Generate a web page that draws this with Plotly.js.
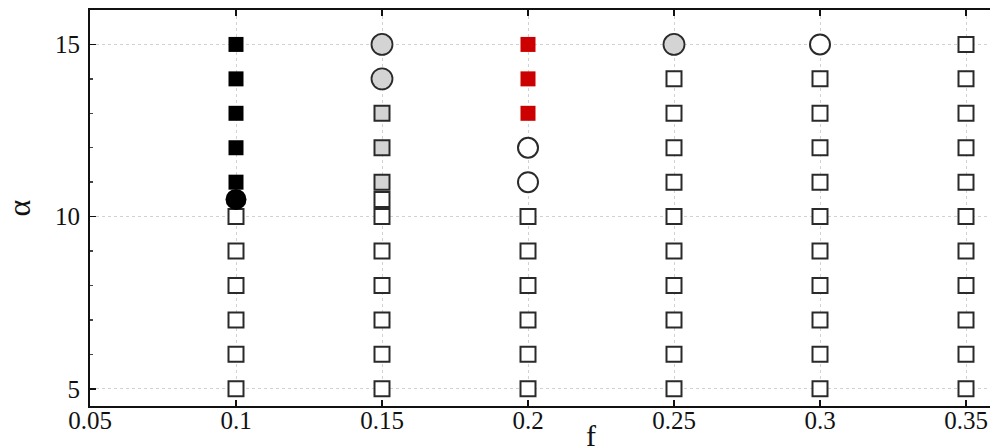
<!DOCTYPE html>
<html>
<head>
<meta charset="utf-8">
<script src="https://cdn.plot.ly/plotly-3.0.1.min.js"></script>
<style>
html,body{margin:0;padding:0;overflow:hidden;background:#fff;width:990px;height:447px;}
#chart{width:1114px;height:447px;}
</style>
</head>
<body>
<div id="chart"></div>
<script>
// f values (x) and alpha values (y) for each marker class
const openSquareF     = [0.1,0.1,0.1,0.1,0.1,0.1,
                         0.15,0.15,0.15,0.15,0.15,0.15,0.15,
                         0.2,0.2,0.2,0.2,0.2,0.2,
                         0.25,0.25,0.25,0.25,0.25,0.25,0.25,0.25,0.25,0.25,
                         0.3,0.3,0.3,0.3,0.3,0.3,0.3,0.3,0.3,0.3,
                         0.35,0.35,0.35,0.35,0.35,0.35,0.35,0.35,0.35,0.35,0.35];
const openSquareAlpha = [5,6,7,8,9,10,
                         5,6,7,8,9,10,10.5,
                         5,6,7,8,9,10,
                         5,6,7,8,9,10,11,12,13,14,
                         5,6,7,8,9,10,11,12,13,14,
                         5,6,7,8,9,10,11,12,13,14,15];
const blackSquareF     = [0.1,0.1,0.1,0.1,0.1];
const blackSquareAlpha = [11,12,13,14,15];
const blackCircleF     = [0.1];
const blackCircleAlpha = [10.5];
const graySquareF      = [0.15,0.15,0.15];
const graySquareAlpha  = [11,12,13];
const grayCircleF      = [0.15,0.15,0.25];
const grayCircleAlpha  = [14,15,15];
const redSquareF       = [0.2,0.2,0.2];
const redSquareAlpha   = [13,14,15];
const openCircleF      = [0.2,0.2,0.3];
const openCircleAlpha  = [11,12,15];

const xTicks = [0.05,0.1,0.15,0.2,0.25,0.3,0.35,0.4];
const xTickText = ['0.05','0.1','0.15','0.2','0.25','0.3','0.35','0.4'];
const yTicks = [5,10,15];

const edge = '#2a2a2a';
function tr(x, y, symbol, size, fill, lineColor, lineWidth){
  return {x:x, y:y, type:'scatter', mode:'markers', hoverinfo:'x+y',
    marker:{symbol:symbol, size:size, color:fill, line:{color:lineColor, width:lineWidth}}};
}
const data = [
  tr(openSquareF, openSquareAlpha, 'square', 15, '#ffffff', edge, 2),
  tr(graySquareF, graySquareAlpha, 'square', 15, '#d4d4d4', edge, 2),
  tr(blackSquareF, blackSquareAlpha, 'square', 15, '#000000', '#000000', 0),
  tr(redSquareF, redSquareAlpha, 'square', 15, '#cc0000', '#cc0000', 0),
  tr(openCircleF, openCircleAlpha, 'circle', 20, '#ffffff', edge, 2),
  tr(grayCircleF, grayCircleAlpha, 'circle', 21, '#d4d4d4', edge, 1.8),
  tr(blackCircleF, blackCircleAlpha, 'circle', 21, '#000000', '#000000', 0)
];

const font = "Liberation Serif";
const layout = {
  width:1114, height:447,
  margin:{l:90, r:2, t:10, b:41},
  paper_bgcolor:'#fff', plot_bgcolor:'#fff',
  showlegend:false,
  font:{family:font, size:25, color:'#111'},
  xaxis:{
    range:[0.05,0.4], tickmode:'array', tickvals:xTicks, ticktext:xTickText,
    ticks:'inside', ticklen:6, tickwidth:1.5, tickcolor:'#111',
    showline:true, linecolor:'#111', linewidth:2, mirror:'ticks',
    showgrid:true, gridcolor:'#d2d2d2', griddash:'dot', gridwidth:1,
    zeroline:false, ticklabelstandoff:-9,
    tickfont:{family:font, size:25, color:'#111'},
    title:{text:''}
  },
  yaxis:{
    range:[4.5,16], tickmode:'array', tickvals:yTicks,
    ticks:'inside', ticklen:6, tickwidth:1.5, tickcolor:'#111',
    minor:{dtick:1, ticks:'inside', ticklen:3, tickcolor:'#444', showgrid:false},
    showline:true, linecolor:'#111', linewidth:2, mirror:'ticks',
    showgrid:true, gridcolor:'#d2d2d2', griddash:'dot', gridwidth:1,
    zeroline:false, ticklabelstandoff:3,
    tickfont:{family:font, size:25, color:'#111'},
    title:{text:'α', font:{family:font, size:32, color:'#111'}, standoff:15}
  },
  annotations:[
    {text:'f', xref:'paper', yref:'paper', x:0.49, y:0, yshift:-11, xanchor:'center', yanchor:'top',
     showarrow:false, font:{family:font, size:30, color:'#111'}}
  ]
};
Plotly.newPlot('chart', data, layout, {displayModeBar:false, staticPlot:true});
</script>
</body>
</html>
